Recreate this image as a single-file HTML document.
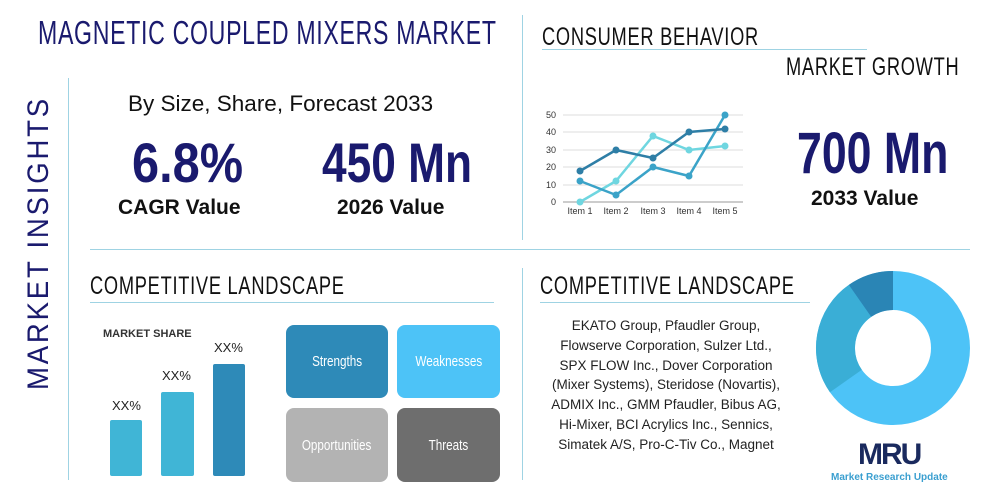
<!DOCTYPE html>
<html><head><meta charset="utf-8"><style>
body{margin:0;width:1000px;height:500px;background:#fff;position:relative;overflow:hidden;font-family:"Liberation Sans",sans-serif}
.a{position:absolute;white-space:nowrap}
.n{transform-origin:0 0}
.box{position:absolute;border-radius:8px;color:#fff;font-size:15px;display:flex;align-items:center;justify-content:center}
.box span{display:inline-block;transform:scaleX(0.78)}
</style></head><body>
<div class="a n" style="left:38px;top:14px;font-size:33px;color:#1a1a6e;letter-spacing:1px;transform:scaleX(0.70)">MAGNETIC COUPLED MIXERS MARKET</div>
<div class="a" style="left:22px;top:390px;font-size:30px;color:#1a1a6e;letter-spacing:3px;transform:rotate(-90deg) scaleX(0.92);transform-origin:0 0">MARKET INSIGHTS</div>
<div class="a" style="left:68px;top:78px;width:1px;height:402px;background:#9fd3e3"></div>
<div class="a" style="left:522px;top:15px;width:1px;height:225px;background:#9fd3e3"></div>
<div class="a" style="left:522px;top:268px;width:1px;height:212px;background:#9fd3e3"></div>
<div class="a" style="left:90px;top:249px;width:880px;height:1px;background:#9fd3e3"></div>

<div class="a" style="left:128px;top:91px;font-size:22.5px;color:#111">By Size, Share, Forecast 2033</div>
<div class="a n" style="left:132px;top:130px;font-size:56px;font-weight:bold;color:#1a1a6e;transform:scaleX(0.87)">6.8%</div>
<div class="a" style="left:118px;top:196px;font-size:21px;font-weight:bold;color:#111">CAGR Value</div>
<div class="a n" style="left:322px;top:130px;font-size:56px;font-weight:bold;color:#1a1a6e;transform:scaleX(0.79)">450 Mn</div>
<div class="a" style="left:337px;top:196px;font-size:21px;font-weight:bold;color:#111">2026 Value</div>

<div class="a n" style="left:542px;top:23px;font-size:25px;color:#111;letter-spacing:1px;transform:scaleX(0.73)">CONSUMER BEHAVIOR</div>
<div class="a" style="left:542px;top:49px;width:325px;height:1px;background:#9fd3e3"></div>
<div class="a n" style="left:786px;top:53px;font-size:25px;color:#111;letter-spacing:1px;transform:scaleX(0.73)">MARKET GROWTH</div>
<div class="a n" style="left:797px;top:120px;font-size:58px;font-weight:bold;color:#1a1a6e;transform:scaleX(0.77)">700 Mn</div>
<div class="a" style="left:811px;top:187px;font-size:21px;font-weight:bold;color:#111">2033 Value</div>

<svg class="a" style="left:0;top:0" width="1000" height="500">
<g stroke="#ddd" stroke-width="1">
<line x1="563" x2="743" y1="115" y2="115"/><line x1="563" x2="743" y1="132" y2="132"/><line x1="563" x2="743" y1="150" y2="150"/><line x1="563" x2="743" y1="167" y2="167"/><line x1="563" x2="743" y1="185" y2="185"/></g>
<line x1="563" x2="743" y1="202" y2="202" stroke="#999"/>
<g font-size="9" fill="#333" text-anchor="end" font-family="Liberation Sans">
<text x="556" y="118">50</text><text x="556" y="135">40</text><text x="556" y="153">30</text><text x="556" y="170">20</text><text x="556" y="188">10</text><text x="556" y="205">0</text></g>
<g font-size="9" fill="#333" text-anchor="middle" font-family="Liberation Sans">
<text x="580" y="214">Item 1</text><text x="616" y="214">Item 2</text><text x="653" y="214">Item 3</text><text x="689" y="214">Item 4</text><text x="725" y="214">Item 5</text></g>
<polyline fill="none" stroke="#6fd6e0" stroke-width="2.5" points="580,202 616,181 653,136 689,150 725,146"/>
<polyline fill="none" stroke="#3ba3c8" stroke-width="2.5" points="580,181 616,195 653,167 689,176 725,115"/>
<polyline fill="none" stroke="#2e7ea6" stroke-width="2.5" points="580,171 616,150 653,158 689,132 725,129"/>
<g fill="#6fd6e0"><circle cx="580" cy="202" r="3.5"/><circle cx="616" cy="181" r="3.5"/><circle cx="653" cy="136" r="3.5"/><circle cx="689" cy="150" r="3.5"/><circle cx="725" cy="146" r="3.5"/></g>
<g fill="#3ba3c8"><circle cx="580" cy="181" r="3.5"/><circle cx="616" cy="195" r="3.5"/><circle cx="653" cy="167" r="3.5"/><circle cx="689" cy="176" r="3.5"/><circle cx="725" cy="115" r="3.5"/></g>
<g fill="#2e7ea6"><circle cx="580" cy="171" r="3.5"/><circle cx="616" cy="150" r="3.5"/><circle cx="653" cy="158" r="3.5"/><circle cx="689" cy="132" r="3.5"/><circle cx="725" cy="129" r="3.5"/></g>

<g transform="translate(893,348)" stroke-width="39" fill="none">
<circle r="57.5" stroke="#4dc3f7"/>
<path d="M -47.1 33 A 57.5 57.5 0 0 1 -33 -47.1" stroke="#3aaed6"/>
<path d="M -33 -47.1 A 57.5 57.5 0 0 1 0 -57.5" stroke="#2a85b5"/>
</g>
<rect x="110" y="420" width="32" height="56" fill="#40b5d6" rx="2"/>
<rect x="161" y="392" width="33" height="84" fill="#40b5d6" rx="2"/>
<rect x="213" y="364" width="32" height="112" fill="#2e8ab8" rx="2"/>
</svg>

<div class="a n" style="left:90px;top:272px;font-size:25px;color:#111;letter-spacing:1px;transform:scaleX(0.73)">COMPETITIVE LANDSCAPE</div>
<div class="a" style="left:90px;top:302px;width:404px;height:1px;background:#9fd3e3"></div>
<div class="a" style="left:103px;top:328px;font-size:11px;font-weight:bold;color:#333">MARKET SHARE</div>
<div class="a" style="left:112px;top:398px;font-size:13px;color:#222">XX%</div>
<div class="a" style="left:162px;top:368px;font-size:13px;color:#222">XX%</div>
<div class="a" style="left:214px;top:340px;font-size:13px;color:#222">XX%</div>
<div class="box" style="left:286px;top:325px;width:102px;height:73px;background:#2e8ab8"><span>Strengths</span></div>
<div class="box" style="left:397px;top:325px;width:103px;height:73px;background:#4dc3f7"><span>Weaknesses</span></div>
<div class="box" style="left:286px;top:408px;width:102px;height:74px;background:#b3b3b3"><span>Opportunities</span></div>
<div class="box" style="left:397px;top:408px;width:103px;height:74px;background:#6e6e6e"><span>Threats</span></div>

<div class="a n" style="left:540px;top:272px;font-size:25px;color:#111;letter-spacing:1px;transform:scaleX(0.73)">COMPETITIVE LANDSCAPE</div>
<div class="a" style="left:540px;top:302px;width:270px;height:1px;background:#9fd3e3"></div>
<div class="a" style="left:531px;top:316px;width:270px;text-align:center;font-size:13.5px;line-height:19.8px;color:#222">EKATO Group, Pfaudler Group,<br>Flowserve Corporation, Sulzer Ltd.,<br>SPX FLOW Inc., Dover Corporation<br>(Mixer Systems), Steridose (Novartis),<br>ADMIX Inc., GMM Pfaudler, Bibus AG,<br>Hi-Mixer, BCI Acrylics Inc., Sennics,<br>Simatek A/S, Pro-C-Tiv Co., Magnet</div>

<div class="a" style="left:858px;top:438px;font-size:30px;font-weight:bold;color:#1a2a5e;letter-spacing:-2px">MRU</div>
<div class="a" style="left:831px;top:472px;font-size:10px;font-weight:bold;color:#3a9fd0">Market Research Update</div>
</body></html>
